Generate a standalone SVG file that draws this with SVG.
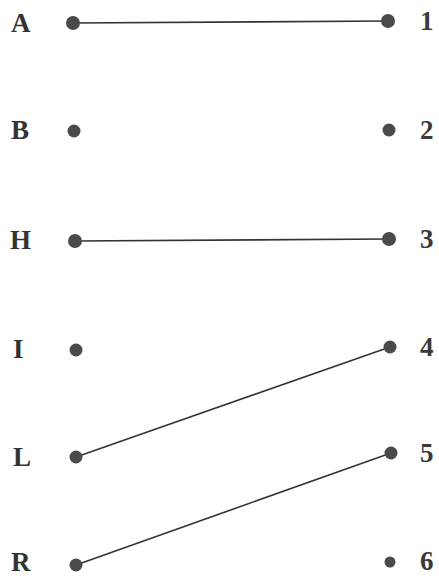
<svg xmlns="http://www.w3.org/2000/svg" width="439" height="578" viewBox="0 0 439 578">
<style>
.lbl{font-family:"Liberation Serif","Times New Roman",serif;font-size:27px;font-weight:bold;fill:#333}
.num{font-family:"Liberation Serif","Times New Roman",serif;font-size:27px;font-weight:bold;fill:#3a3a3a}
.dot{fill:#4a4a4a}
.edge{stroke:#333;stroke-width:1.6;fill:none}
</style>
<rect width="439" height="578" fill="#ffffff"/>
<g id="connectors">
<line class="edge" x1="73" y1="23" x2="388" y2="21"/>
<line class="edge" x1="75" y1="241" x2="389" y2="239"/>
<line class="edge" x1="76" y1="457" x2="390" y2="347"/>
<line class="edge" x1="76" y1="565" x2="391" y2="453"/>
</g>
<g id="A"><text class="lbl" x="11" y="32">A</text><circle class="dot" cx="73" cy="23" r="7"/></g>
<g id="B"><text class="lbl" x="11" y="139">B</text><circle class="dot" cx="74" cy="131" r="6.5"/></g>
<g id="H"><text class="lbl" x="10" y="249">H</text><circle class="dot" cx="75" cy="241" r="7"/></g>
<g id="I"><text class="lbl" x="13" y="358">I</text><circle class="dot" cx="76" cy="350" r="6.5"/></g>
<g id="L"><text class="lbl" x="13" y="466">L</text><circle class="dot" cx="76" cy="457" r="6.5"/></g>
<g id="R"><text class="lbl" x="11" y="571">R</text><circle class="dot" cx="76" cy="565" r="6.5"/></g>
<g id="n1"><circle class="dot" cx="388" cy="21" r="7"/><text class="num" x="420" y="30">1</text></g>
<g id="n2"><circle class="dot" cx="389" cy="130" r="6.5"/><text class="num" x="420" y="139">2</text></g>
<g id="n3"><circle class="dot" cx="389" cy="239" r="7"/><text class="num" x="420" y="248">3</text></g>
<g id="n4"><circle class="dot" cx="390" cy="347" r="6.5"/><text class="num" x="420" y="356">4</text></g>
<g id="n5"><circle class="dot" cx="391" cy="453" r="6.5"/><text class="num" x="420" y="462">5</text></g>
<g id="n6"><circle class="dot" cx="390" cy="562" r="5.5"/><text class="num" x="420" y="570">6</text></g>
</svg>
